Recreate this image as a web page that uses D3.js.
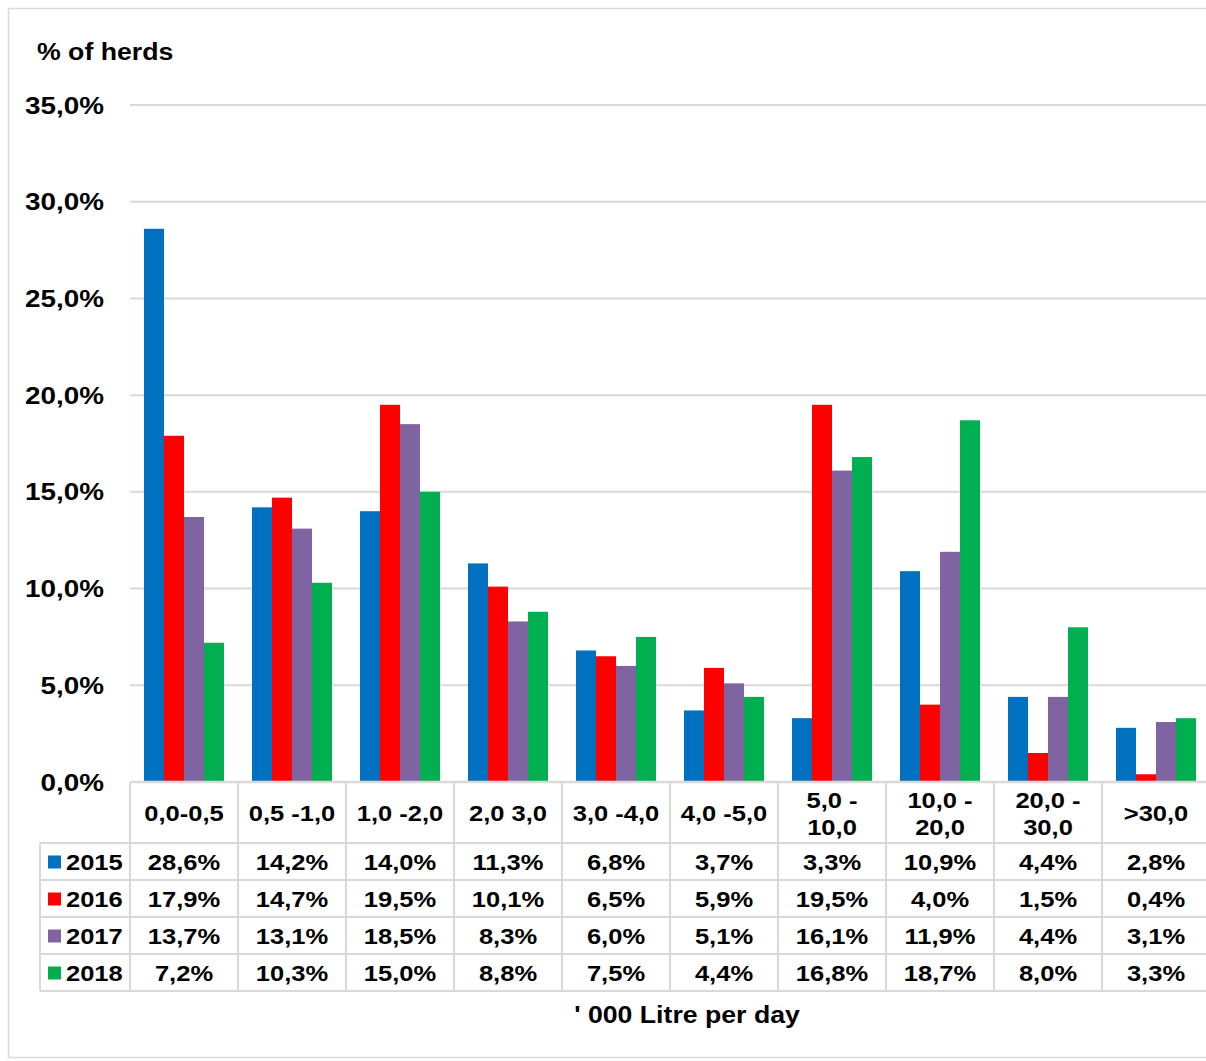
<!DOCTYPE html>
<html>
<head>
<meta charset="utf-8">
<script src="https://cdn.jsdelivr.net/npm/d3@7"></script>
<style>
  body { margin: 0; background: #fff; }
  text { font-family: "Liberation Sans", Arial, sans-serif; font-weight: bold; fill: #000; }
</style>
</head>
<body>
<div id="chart"></div>
<script>
const categories = ["0,0-0,5", "0,5 -1,0", "1,0 -2,0", "2,0 3,0", "3,0 -4,0", "4,0 -5,0", "5,0 -\n10,0", "10,0 -\n20,0", "20,0 -\n30,0", ">30,0"];
const years = ["2015", "2016", "2017", "2018"];
const v2015 = [28.6, 14.2, 14.0, 11.3, 6.8, 3.7, 3.3, 10.9, 4.4, 2.8];
const v2016 = [17.9, 14.7, 19.5, 10.1, 6.5, 5.9, 19.5, 4.0, 1.5, 0.4];
const v2017 = [13.7, 13.1, 18.5, 8.3, 6.0, 5.1, 16.1, 11.9, 4.4, 3.1];
const v2018 = [7.2, 10.3, 15.0, 8.8, 7.5, 4.4, 16.8, 18.7, 8.0, 3.3];
const yTicks = [0, 5, 10, 15, 20, 25, 30, 35];
const colors = ["#0070C0", "#FF0000", "#8064A2", "#00B050"];

const series = [v2015, v2016, v2017, v2018];
const fmt = v => d3.format(".1f")(v).replace(".", ",") + "%";
const SX = 1.16; // the original text is a little wider than Arial

const width = 1206, height = 1061;
const svg = d3.select("#chart").append("svg")
  .attr("width", width).attr("height", height);

// places a text with a horizontal stretch around its anchor
function label(sel, px, py, str, size, anchor) {
  return sel.append("text")
    .attr("transform", `translate(${px},${py}) scale(${SX},1)`)
    .attr("dy", "0.36em")
    .attr("text-anchor", anchor || "start")
    .style("font-size", size + "px")
    .text(str);
}

// chart frame
svg.append("rect").attr("x", 8.5).attr("y", 8.5)
  .attr("width", 1210).attr("height", 1049)
  .attr("fill", "none").attr("stroke", "#d9d9d9").attr("stroke-width", 1.5);

const plotLeft = 130, plotRight = 1210, plotTop = 105, plotBottom = 782;

const x = d3.scaleBand().domain(categories).range([plotLeft, plotRight]);
const xSub = d3.scaleBand().domain(years).range([0, x.bandwidth()]).paddingInner(0).paddingOuter(0.7);
const y = d3.scaleLinear().domain([0, 35]).range([plotBottom, plotTop]);

// gridlines
svg.append("g").selectAll("line").data(yTicks).enter().append("line")
  .attr("x1", plotLeft).attr("x2", plotRight)
  .attr("y1", d => y(d)).attr("y2", d => y(d))
  .attr("stroke", "#d9d9d9").attr("stroke-width", 2);

// y tick labels
const yl = svg.append("g");
yTicks.forEach(t => label(yl, 104, y(t), d3.format(".1f")(t).replace(".", ",") + "%", 24, "end"));

label(svg, 37, 52, "% of herds", 23);

// bars
const groups = svg.append("g").selectAll("g").data(categories).enter().append("g")
  .attr("transform", d => `translate(${x(d)},0)`);

groups.selectAll("rect")
  .data((c, i) => years.map((yr, j) => ({ yr, j, v: series[j][i] })))
  .enter().append("rect")
  .attr("x", d => xSub(d.yr))
  .attr("width", xSub.bandwidth())
  .attr("y", d => y(d.v))
  .attr("height", d => y(0) - y(d.v))
  .attr("fill", d => colors[d.j]);

// data table
const headerBottom = 843, rowH = 37;
const gridColor = "#d9d9d9";
const tbl = svg.append("g");

tbl.append("line").attr("x1", plotLeft).attr("x2", plotRight).attr("y1", plotBottom).attr("y2", plotBottom)
  .attr("stroke", gridColor).attr("stroke-width", 2.5);
const vx = categories.map(c => x(c)).concat([plotRight]);
tbl.selectAll("line.v").data(vx).enter().append("line")
  .attr("x1", d => d).attr("x2", d => d)
  .attr("y1", plotBottom).attr("y2", headerBottom + rowH * years.length)
  .attr("stroke", gridColor).attr("stroke-width", 2);
tbl.append("line").attr("x1", 40).attr("x2", 40)
  .attr("y1", headerBottom).attr("y2", headerBottom + rowH * years.length)
  .attr("stroke", gridColor).attr("stroke-width", 2);
const hy = d3.range(years.length + 1).map(i => headerBottom + i * rowH);
tbl.selectAll("line.h").data(hy).enter().append("line")
  .attr("x1", 40).attr("x2", plotRight)
  .attr("y1", d => d).attr("y2", d => d)
  .attr("stroke", gridColor).attr("stroke-width", 2);

// header labels
categories.forEach(c => {
  const lines = c.split("\n");
  const cx = x(c) + x.bandwidth() / 2;
  if (lines.length === 1) {
    label(tbl, cx, 813, lines[0], 22, "middle");
  } else {
    label(tbl, cx, 800, lines[0], 22, "middle");
    label(tbl, cx, 827, lines[1], 22, "middle");
  }
});

// rows
years.forEach((yr, j) => {
  const cy = headerBottom + j * rowH + rowH / 2 + 1;
  tbl.append("rect").attr("x", 48).attr("y", cy - 7).attr("width", 13).attr("height", 13)
    .attr("fill", colors[j]);
  label(tbl, 66, cy, yr, 22);
  series[j].forEach((v, i) => label(tbl, x(categories[i]) + x.bandwidth() / 2, cy, fmt(v), 22, "middle"));
});

label(svg, 687, 1015, "' 000 Litre per day", 23, "middle");
</script>
</body>
</html>
